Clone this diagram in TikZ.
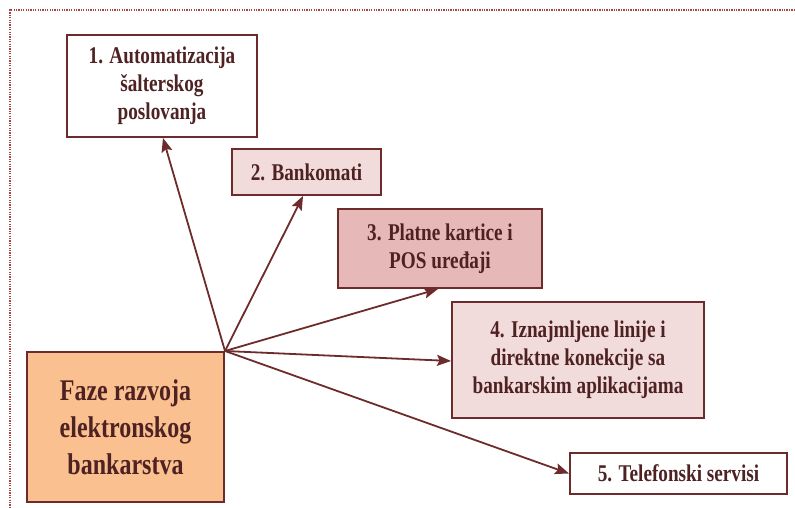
\documentclass[tikz,border=0pt]{standalone}
\usepackage{fontspec}
\setmainfont{Liberation Serif}[FakeStretch=0.8]
\usetikzlibrary{arrows.meta}
\definecolor{bord}{HTML}{6E2B2B}
\definecolor{txt}{HTML}{4E2222}
\definecolor{pinkl}{HTML}{F2DCDB}
\definecolor{pinkd}{HTML}{E6B9B8}
\definecolor{orangel}{HTML}{FAC090}
\definecolor{dotc}{HTML}{A84444}
\tikzset{
  box/.style={draw=bord, line width=2pt, text=txt, align=center,
    font=\bfseries\fontsize{24}{28}\selectfont, inner sep=0pt},
  arr/.style={draw=bord, line width=1.8pt,
    -{Stealth[length=14pt,width=11pt,inset=2.5pt]}},
  frame/.style={draw=dotc, line width=1.6pt, dash pattern=on 1.3pt off 1.1pt}
}
\begin{document}
\begin{tikzpicture}[x=1pt,y=-1pt]
\useasboundingbox (0,0) rectangle (795,508);
\draw[frame] (10,508) -- (10,10) -- (795,10);
\node[box, minimum width=190pt, minimum height=102pt] (b1) at (162,86)
  {1. Automatizacija\\šalterskog\\poslovanja};
\node[box, fill=pinkl, minimum width=149pt, minimum height=46pt] (b2) at (306.5,172)
  {2. Bankomati};
\node[box, fill=pinkd, minimum width=204pt, minimum height=79pt] (b3) at (440,248.5)
  {3. Platne kartice i\\POS uređaji};
\node[box, fill=pinkl, minimum width=252pt, minimum height=116pt] (b4) at (578,360)
  {4. Iznajmljene linije i\\direktne konekcije sa\\bankarskim aplikacijama};
\node[box, minimum width=217pt, minimum height=41pt] (b5) at (678.5,473.5)
  {5. Telefonski servisi};
\node[box, fill=orangel, minimum width=197pt, minimum height=150pt,
  font=\bfseries\fontsize{30}{37}\selectfont] (main) at (125.5,427)
  {Faze razvoja\\elektronskog\\bankarstva};
\draw[arr] (main.north east) -- ([xshift=1pt]b1.south);
\draw[arr] (main.north east) -- ([xshift=-3.5pt]b2.south);
\draw[arr] (main.north east) -- ([xshift=-2pt]b3.south);
\draw[arr] (main.north east) -- ([yshift=-1pt]b4.west);
\draw[arr] (main.north east) -- (b5.west);
\end{tikzpicture}
\end{document}
